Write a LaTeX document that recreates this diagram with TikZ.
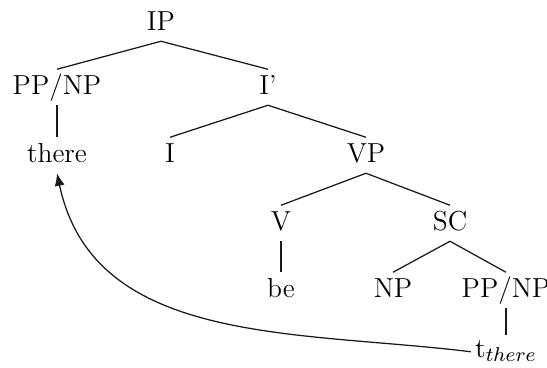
\documentclass[tikz,border=0pt]{standalone}
\usetikzlibrary{arrows.meta}
\begin{document}
\begin{tikzpicture}[x=0.4pt,y=-0.4pt,
  lbl/.style={anchor=base,inner sep=1.5pt,text height=8.2pt,text depth=2.8pt,font=\fontsize{11}{13}\selectfont},
  br/.style={draw=black!90,line width=0.5pt},
  mv/.style={draw=black!90,line width=0.5pt,-{Latex[length=5pt,width=4pt]}}]
\useasboundingbox (0,0) rectangle (547,367);
\node[lbl] (ip) at (161,30) {IP};
\node[lbl] (ppl) at (57,94) {PP/NP};
\node[lbl] (ibar) at (268,94) {I'};
\node[lbl] (there) at (57,162) {there};
\node[lbl] (i) at (170,162) {I};
\node[lbl] (vp) at (366,162) {VP};
\node[lbl] (v) at (281,230) {V};
\node[lbl] (sc) at (450,230) {SC};
\node[lbl] (be) at (281,297) {be};
\node[lbl] (np) at (393,297) {NP};
\node[lbl] (ppr) at (506,297) {PP/NP};
\node[lbl,text height=7pt] (t) at (506,357) {$\mathrm{t}_{there}$};
\draw[br] (ip.south) -- (ppl.north);
\draw[br] (ip.south) -- (ibar.north);
\draw[br] (ppl.south) -- (there.north);
\draw[br] (ibar.south) -- (i.north);
\draw[br] (ibar.south) -- (vp.north);
\draw[br] (vp.south) -- (v.north);
\draw[br] (vp.south) -- (sc.north);
\draw[br] (v.south) -- (be.north);
\draw[br] (sc.south) -- (np.north);
\draw[br] (sc.south) -- (ppr.north);
\draw[br] (ppr.south) -- (t.north);
\draw[mv] (t.west) to[out=173,in=-78] (there.south);
\end{tikzpicture}
\end{document}
